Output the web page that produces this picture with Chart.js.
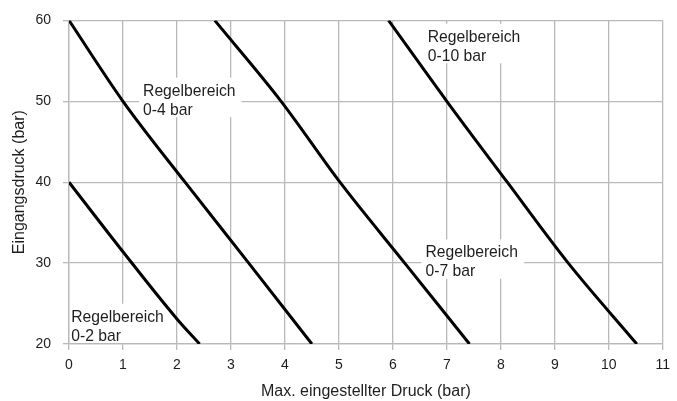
<!DOCTYPE html>
<html>
<head>
<meta charset="utf-8">
<script src="https://cdn.jsdelivr.net/npm/chart.js@4/dist/chart.umd.min.js"></script>
<style>
  html, body { margin: 0; padding: 0; background: #ffffff; }
  #wrap { width: 677px; height: 401px; position: relative; }
</style>
</head>
<body>
<div id="wrap"><canvas id="c" width="677" height="401"></canvas></div>
<script>
// ---- Data ----
const seriesNames = ['Regelbereich 0-2 bar', 'Regelbereich 0-4 bar', 'Regelbereich 0-7 bar', 'Regelbereich 0-10 bar'];
const range2X  = [0, 1, 2, 2.42];
const range2Y  = [40, 31.4, 23.1, 20];
const range4X  = [0, 1, 2.15, 3.33, 4.5];
const range4Y  = [60, 50, 40, 30, 20];
const range7X  = [2.7, 3.93, 5.02, 6.22, 7.42];
const range7Y  = [60, 50, 40, 30, 20];
const range10X = [5.92, 7.0, 8.12, 9.25, 10.52];
const range10Y = [60, 50, 40, 30, 20];

const xTicks = [0, 1, 2, 3, 4, 5, 6, 7, 8, 9, 10, 11];
const yTicks = [20, 30, 40, 50, 60];
const xTitle = 'Max. eingestellter Druck (bar)';
const yTitle = 'Eingangsdruck (bar)';

// annotation labels: lines of text and anchor (left of text, baseline of first line) in data units
const labelTexts = [['Regelbereich', '0-2 bar'], ['Regelbereich', '0-4 bar'], ['Regelbereich', '0-7 bar'], ['Regelbereich', '0-10 bar']];
const labelAtX = [0.042, 1.372, 6.604, 6.647];
const labelAtY = [22.75, 50.70, 30.71, 57.36];

// ---- Build ----
function pts(xs, ys) { return xs.map((x, i) => ({ x: x, y: ys[i] })); }
const FONT = "'Liberation Sans', Arial, Helvetica, sans-serif";
const GRID = '#b9b9bd';
const TEXT = '#1e1e1e';

const labelPlugin = {
  id: 'rangeLabels',
  beforeDatasetsDraw(chart) {
    const ctx = chart.ctx;
    const xs = chart.scales.x, ys = chart.scales.y;
    const area = chart.chartArea;
    ctx.save();
    ctx.font = '15.7px ' + FONT;
    const lh = 19;
    labelTexts.forEach((lines, i) => {
      const px = xs.getPixelForValue(labelAtX[i]);
      const py = ys.getPixelForValue(labelAtY[i]);
      const w = Math.max(...lines.map(t => ctx.measureText(t).width));
      let l = px - 4, r = px + w + 6;
      let t = py - 18, b = py + lh * (lines.length - 1) + 2.5;
      l = Math.max(l, area.left + 1.5);
      b = Math.min(b, area.bottom - 1);
      t = Math.max(t, area.top + 1);
      ctx.fillStyle = '#ffffff';
      ctx.fillRect(l, t, r - l, b - t);
      ctx.fillStyle = TEXT;
      ctx.textAlign = 'left';
      ctx.textBaseline = 'alphabetic';
      lines.forEach((s, k) => ctx.fillText(s, px, py + k * lh));
    });
    ctx.restore();
  }
};

const mkDs = (name, xs, ys) => ({
  label: name,
  data: pts(xs, ys),
  showLine: true,
  borderColor: '#000000',
  borderWidth: 3,
  pointRadius: 0,
  cubicInterpolationMode: 'monotone',
  fill: false
});

new Chart(document.getElementById('c'), {
  type: 'scatter',
  data: {
    datasets: [
      mkDs(seriesNames[0], range2X, range2Y),
      mkDs(seriesNames[1], range4X, range4Y),
      mkDs(seriesNames[2], range7X, range7Y),
      mkDs(seriesNames[3], range10X, range10Y)
    ]
  },
  options: {
    responsive: false,
    animation: false,
    devicePixelRatio: 1,
    layout: { padding: { top: 17, right: 10, bottom: 0, left: 0 } },
    plugins: { legend: { display: false }, tooltip: { enabled: false } },
    scales: {
      x: {
        type: 'linear',
        min: xTicks[0],
        max: xTicks[xTicks.length - 1],
        afterBuildTicks: s => { s.ticks = xTicks.map(v => ({ value: v })); },
        afterFit: s => { s.height = 57; },
        grid: { color: GRID, lineWidth: 1.3, drawTicks: true, tickLength: 6, tickColor: GRID, tickWidth: 1.3 },
        border: { display: true, color: GRID, width: 1.3 },
        ticks: { color: TEXT, font: { family: FONT, size: 14 }, padding: 7, maxRotation: 0 },
        title: { display: true, text: xTitle, color: TEXT, font: { family: FONT, size: 16 }, padding: { top: 0, bottom: 0 } }
      },
      y: {
        type: 'linear',
        min: yTicks[0],
        max: yTicks[yTicks.length - 1],
        afterBuildTicks: s => { s.ticks = yTicks.map(v => ({ value: v })); },
        afterFit: s => { s.width = 69; },
        grid: { color: GRID, lineWidth: 1.3, drawTicks: true, tickLength: 6, tickColor: GRID, tickWidth: 1.3 },
        border: { display: true, color: GRID, width: 1.3 },
        ticks: { color: TEXT, font: { family: FONT, size: 14 }, padding: 12 },
        title: { display: true, text: yTitle, color: TEXT, font: { family: FONT, size: 16 }, padding: { top: 10, bottom: 0 } }
      }
    }
  },
  plugins: [labelPlugin]
});
</script>
</body>
</html>
